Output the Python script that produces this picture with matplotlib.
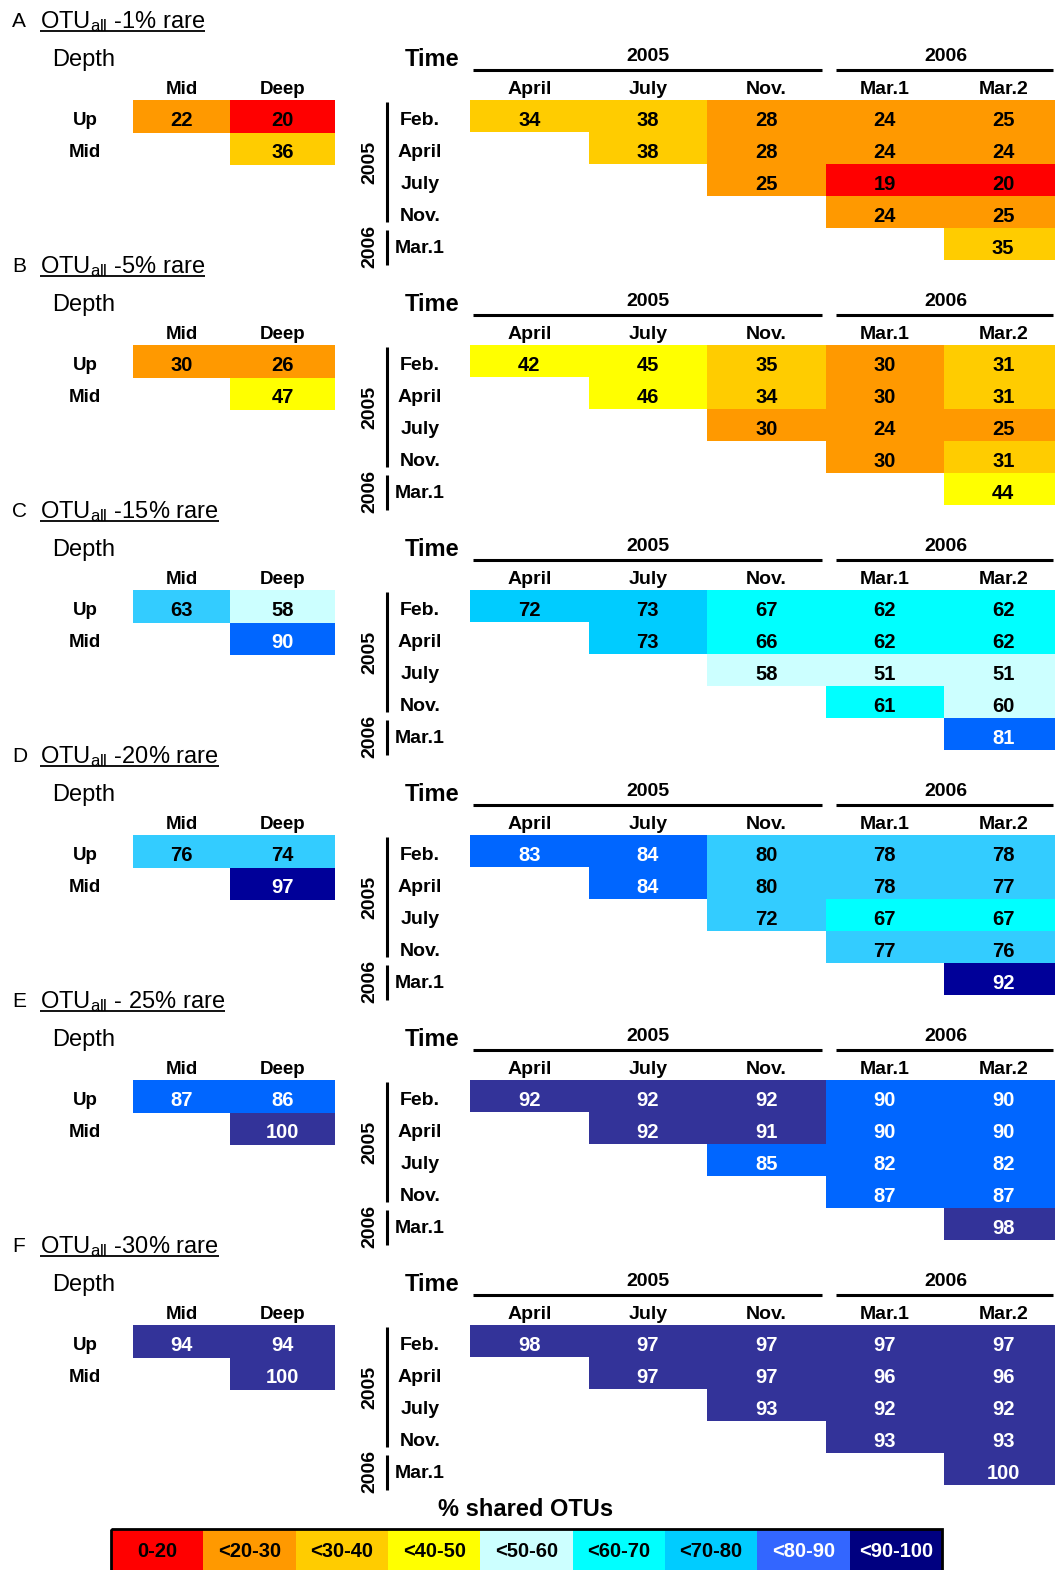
import matplotlib
matplotlib.use("Agg")
import matplotlib.pyplot as plt
from matplotlib.patches import Rectangle

plt.rcParams['font.family'] = ['Liberation Sans', 'DejaVu Sans']
plt.rcParams['mathtext.fontset'] = 'custom'
plt.rcParams['mathtext.rm'] = 'Liberation Sans'
plt.rcParams['mathtext.it'] = 'Liberation Sans'

# ---------------- data ----------------
panel_letters = ["A", "B", "C", "D", "E", "F"]
panel_pcts = ["-1% rare", "-5% rare", "-15% rare", "-20% rare", "- 25% rare", "-30% rare"]

depth_rows = ["Up", "Mid"]
depth_cols = ["Mid", "Deep"]
# [Up-Mid, Up-Deep, Mid-Deep]
depth_A = [22, 20, 36]
depth_B = [30, 26, 47]
depth_C = [63, 58, 90]
depth_D = [76, 74, 97]
depth_E = [87, 86, 100]
depth_F = [94, 94, 100]

time_rows = ["Feb.", "April", "July", "Nov.", "Mar.1"]
time_cols = ["April", "July", "Nov.", "Mar.1", "Mar.2"]
time_years = ["2005", "2006"]
# upper-triangular rows: row i covers columns i..4
time_A = [[34, 38, 28, 24, 25], [38, 28, 24, 24], [25, 19, 20], [24, 25], [35]]
time_B = [[42, 45, 35, 30, 31], [46, 34, 30, 31], [30, 24, 25], [30, 31], [44]]
time_C = [[72, 73, 67, 62, 62], [73, 66, 62, 62], [58, 51, 51], [61, 60], [81]]
time_D = [[83, 84, 80, 78, 78], [84, 80, 78, 77], [72, 67, 67], [77, 76], [92]]
time_E = [[92, 92, 92, 90, 90], [92, 91, 90, 90], [85, 82, 82], [87, 87], [98]]
time_F = [[98, 97, 97, 97, 97], [97, 97, 96, 96], [93, 92, 92], [93, 93], [100]]

legend_labels = ["0-20", "<20-30", "<30-40", "<40-50", "<50-60", "<60-70", "<70-80", "<80-90", "<90-100"]
bin_upper = [20, 30, 40, 50, 60, 70, 80, 90, 100]

depth_all = [depth_A, depth_B, depth_C, depth_D, depth_E, depth_F]
time_all = [time_A, time_B, time_C, time_D, time_E, time_F]

# ---------------- colours ----------------
legend_colors = ['#FF0000', '#FF9900', '#FFCC00', '#FFFF00', '#CCFFFF',
                 '#00FFFF', '#00CCFF', '#3366FF', '#000080']
base_cell_colors = ['#FF0000', '#FF9900', '#FFCC00', '#FFFF00', '#CCFFFF',
                    '#00FFFF', '#33CCFF', '#0066FF', '#000099']
sky_by_panel = {"C": '#00CCFF'}
top_by_panel = {"E": '#333399', "F": '#333399'}
cell_overrides = {("C", "depth", 0): '#33CCFF'}


def cell_color(v, letter):
    k = next(i for i, u in enumerate(bin_upper) if v <= u)
    pal = list(base_cell_colors)
    pal[6] = sky_by_panel.get(letter, pal[6])
    pal[8] = top_by_panel.get(letter, pal[8])
    return pal[k]


def text_color(v):
    return 'white' if v > 80 else 'black'


# ---------------- figure ----------------
W, H = 1055, 1570
fig = plt.figure(figsize=(W / 100, H / 100), dpi=100)
ax = fig.add_axes([0, 0, 1, 1])
ax.set_xlim(0, W)
ax.set_ylim(H, 0)
ax.axis('off')

PX_PER_PT = 100 / 72.0


def txt(x, yc, s, fs, bold=True, ha='center', color='black', rot=0):
    """Place text so that its cap height is centred on yc (pixels)."""
    if rot:
        return ax.text(x, yc, s, fontsize=fs, fontweight='bold' if bold else 'normal',
                       ha='center', va='center', rotation=rot, color=color)
    base = yc + 0.358 * fs * PX_PER_PT
    return ax.text(x, base, s, fontsize=fs, fontweight='bold' if bold else 'normal',
                   ha=ha, va='baseline', color=color)


panel_gap = 245.0
first_title_y = 20
row_h = 32.0
depth_row_h = 32.5
depth_edges = [133, 230, 335]
time_x0, time_w = 470, 118.5
num_fs = 14.5
hdr_fs = 14
dhdr_fs = 13.5

renderer = fig.canvas.get_renderer()

for p, letter in enumerate(panel_letters):
    t = first_title_y + p * panel_gap
    # title
    txt(12, t, letter, 15, bold=False, ha='left')
    ttl = txt(40, t, r"OTU$_{\mathrm{all}}$ " + panel_pcts[p], 17, bold=False, ha='left')
    bb = ttl.get_window_extent(renderer=renderer)
    inv = ax.transData.inverted()
    (x0, _), (x1, _) = inv.transform([(bb.x0, bb.y0), (bb.x1, bb.y0)])
    uy = t + 0.358 * 17 * PX_PER_PT + 2.5
    ax.plot([x0, x1], [uy, uy], color='black', lw=1.3, solid_capstyle='butt')

    # ---- depth block ----
    txt(52, t + 38, "Depth", 17, bold=False, ha='left')
    for j, c in enumerate(depth_cols):
        txt((depth_edges[j] + depth_edges[j + 1]) / 2, t + 67, c, dhdr_fs)
    for i, r in enumerate(depth_rows):
        txt(85, t + 80 + depth_row_h * (i + 0.5) + 2, r, dhdr_fs)
    cells = [(0, 0), (0, 1), (1, 1)]
    for k, (i, j) in enumerate(cells):
        v = depth_all[p][k]
        col = cell_overrides.get((letter, "depth", k), cell_color(v, letter))
        xl = depth_edges[j]
        w = depth_edges[j + 1] - depth_edges[j]
        y0 = t + 80 + depth_row_h * i
        ax.add_patch(Rectangle((xl, y0), w, depth_row_h, facecolor=col, edgecolor='none'))
        txt(xl + w / 2, y0 + depth_row_h / 2 + 2.5, str(v), num_fs, color=text_color(v))

    # ---- time block ----
    txt(432, t + 38, "Time", 17)
    txt(648, t + 34, time_years[0], 14)
    txt(946, t + 34, time_years[1], 14)
    ax.plot([473, 822], [t + 50, t + 50], color='black', lw=2.2, solid_capstyle='butt')
    ax.plot([836, 1053], [t + 50, t + 50], color='black', lw=2.2, solid_capstyle='butt')
    for j, c in enumerate(time_cols):
        txt(time_x0 + time_w * (j + 0.5), t + 67, c, hdr_fs)
    for i, r in enumerate(time_rows):
        txt(420, t + 80 + row_h * (i + 0.5) + 2, r, hdr_fs)
    # vertical year bars
    ax.plot([387, 387], [t + 82, t + 202], color='black', lw=2.2, solid_capstyle='butt')
    ax.plot([387, 387], [t + 210, t + 245], color='black', lw=2.2, solid_capstyle='butt')
    txt(370, t + 142, time_years[0], 14, rot=90)
    txt(370, t + 226, time_years[1], 14, rot=90)
    for i, rowvals in enumerate(time_all[p]):
        for k, v in enumerate(rowvals):
            j = i + k
            xl = time_x0 + time_w * j
            y0 = t + 80 + row_h * i
            ax.add_patch(Rectangle((xl, y0), time_w, row_h,
                                   facecolor=cell_color(v, letter), edgecolor='none'))
            txt(xl + time_w / 2, y0 + row_h / 2 + 2.5, str(v), num_fs, color=text_color(v))

# ---------------- legend ----------------
txt(526, 1508, "% shared OTUs", 17)
lx0, lx1, ly0, lh = 111, 942, 1529, 45
lw_box = (lx1 - lx0) / len(legend_labels)
for k, lab in enumerate(legend_labels):
    ax.add_patch(Rectangle((lx0 + k * lw_box, ly0), lw_box, lh,
                           facecolor=legend_colors[k], edgecolor='none'))
    txt(lx0 + (k + 0.5) * lw_box, 1550, lab, 14.5,
        color='white' if k >= 7 else 'black')
ax.add_patch(Rectangle((lx0, ly0), lx1 - lx0, lh, facecolor='none',
                       edgecolor='black', lw=2))

fig.savefig("out.png", dpi=100)
